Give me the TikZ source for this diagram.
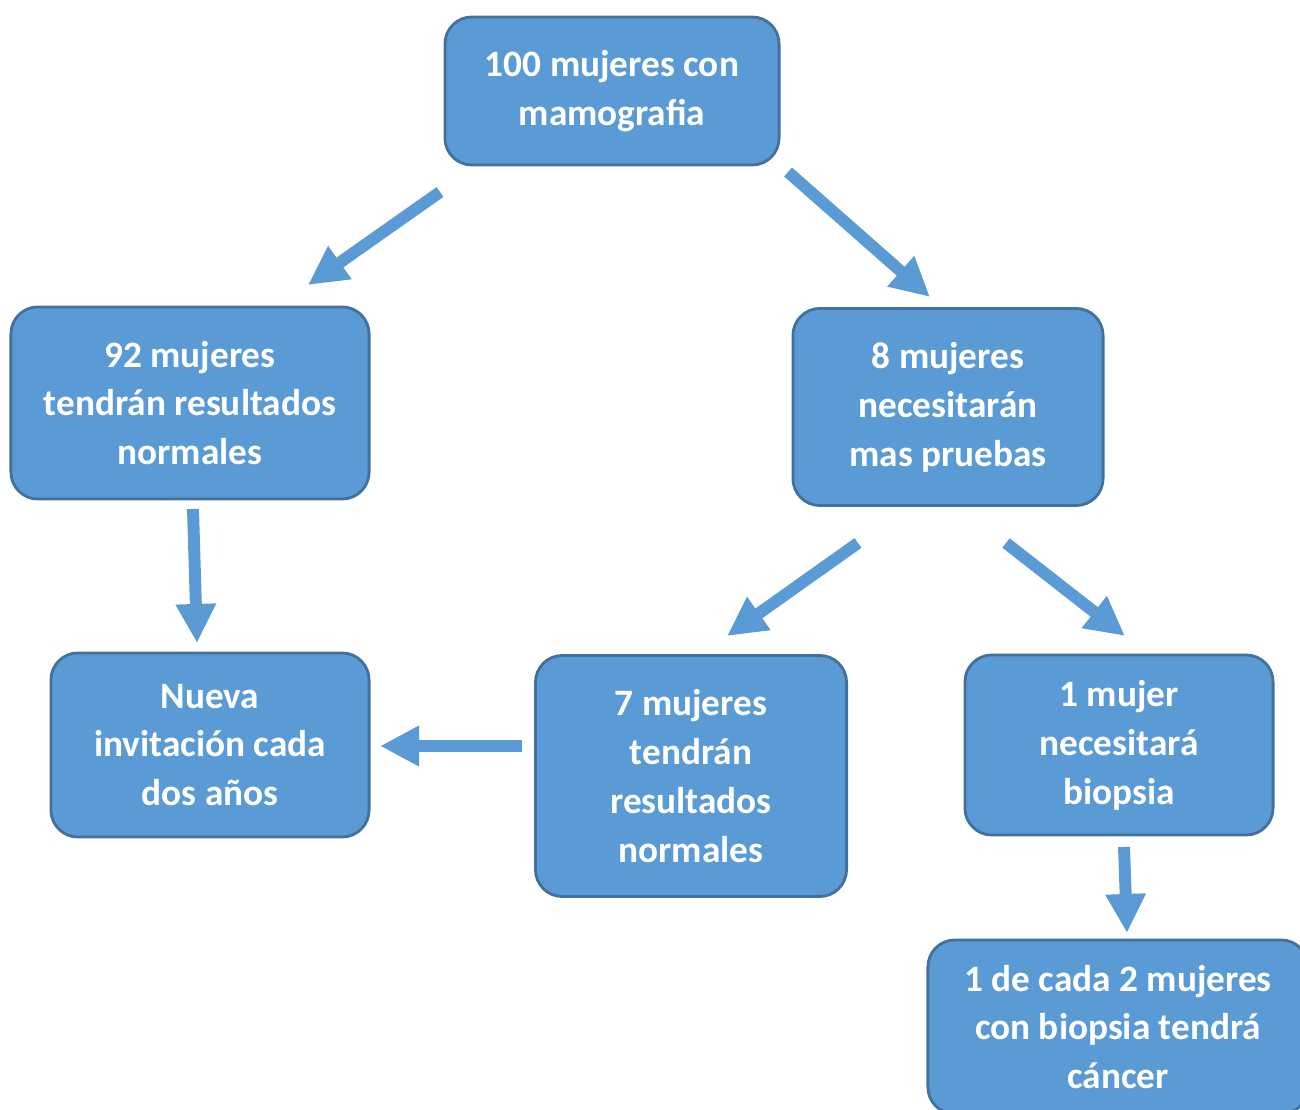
\documentclass[tikz,border=0pt]{standalone}
\usepackage{fontspec}
\setmainfont{Carlito}
\usetikzlibrary{arrows.meta}
\definecolor{boxfill}{HTML}{5B9BD5}
\definecolor{boxline}{HTML}{41719C}
\tikzstyle{flowbox} = [
  draw=boxline,
  fill=boxfill,
  line width=0.8pt,
  rounded corners=0.27cm,
  inner sep=0pt,
  align=center,
  text=white,
  font=\fontsize{10.6}{13.9}\selectfont\bfseries,
]
\tikzstyle{flowarrow} = [
  draw=boxfill,
  line width=3.4pt,
  -{Triangle[width=10.8pt,length=11.1pt]},
]

\begin{document}
\begin{tikzpicture}[x=0.01cm,y=-0.01cm]
    \useasboundingbox (0,0) rectangle (1300,1110);

    % Boxes
    \node[flowbox, minimum width=3.34cm, minimum height=1.48cm] (total) at (612,91)
        {100 mujeres con\\mamografia};
    \node[flowbox, minimum width=3.58cm, minimum height=1.92cm] (normal) at (190,403)
        {92 mujeres\\tendrán resultados\\normales};
    \node[flowbox, minimum width=3.10cm, minimum height=1.97cm] (pruebas) at (948,407)
        {8 mujeres\\necesitarán\\mas pruebas};
    \node[flowbox, minimum width=3.18cm, minimum height=1.84cm] (invitacion) at (210,745)
        {Nueva\\invitación cada\\dos años};
    \node[flowbox, minimum width=3.11cm, minimum height=2.41cm] (normal7) at (691,776)
        {7 mujeres\\tendrán\\resultados\\normales};
    \node[flowbox, minimum width=3.08cm, minimum height=1.80cm] (biopsia) at (1119,745)
        {1 mujer\\necesitará\\biopsia};
    \node[flowbox, minimum width=3.80cm, minimum height=1.74cm] (cancer) at (1118,1027)
        {1 de cada 2 mujeres\\con biopsia tendrá\\cáncer};

    % Arrow ends
    \coordinate (t1) at (440,192);  \coordinate (h1) at (308,285);
    \coordinate (t2) at (788,172);  \coordinate (h2) at (930,297);
    \coordinate (t3) at (193,509);  \coordinate (h3) at (197,643);
    \coordinate (t4) at (858,543);  \coordinate (h4) at (727,636);
    \coordinate (t5) at (1006,543); \coordinate (h5) at (1125,636);
    \coordinate (t6) at (522,746);  \coordinate (h6) at (380,746);
    \coordinate (t7) at (1124,847); \coordinate (h7) at (1127,933);

    % Arrows
    \foreach \i in {1,...,7}
        \draw[flowarrow] (t\i) -- (h\i);
\end{tikzpicture}
\end{document}
